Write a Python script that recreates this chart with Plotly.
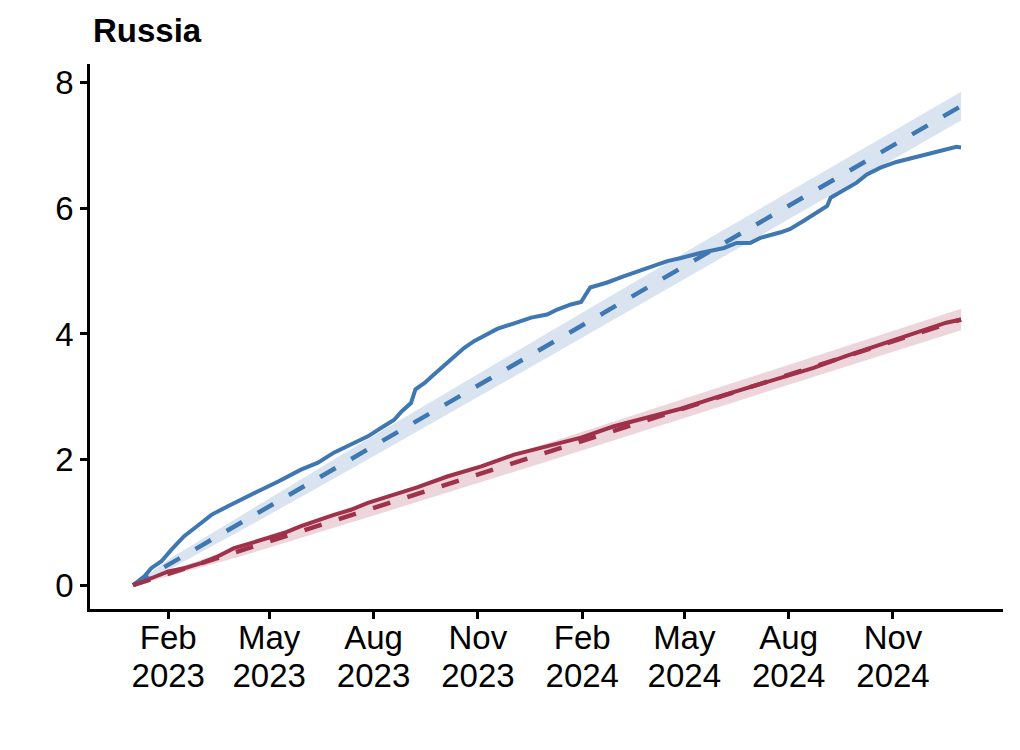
import pandas as pd
import plotly.graph_objects as go

# ---- data ----
start_date = "2023-01-01"

blue_days = [0, 3, 10, 16, 25, 34, 45, 60, 69, 84, 98, 113, 128, 148, 163, 177, 192,
             207, 221, 230, 237, 245, 249, 257, 265, 274, 283, 292, 301, 309, 321, 336,
             351, 365, 374, 386, 395, 403, 418, 433, 453, 471, 483, 500, 521, 532, 544,
             553, 571, 579, 591, 603, 612, 615, 626, 638, 647, 659, 673, 688, 703, 717,
             726, 730]
blue_vals = [0.00, 0.04, 0.14, 0.27, 0.38, 0.57, 0.78, 0.99, 1.12, 1.26, 1.39, 1.52, 1.65,
             1.84, 1.95, 2.11, 2.24, 2.37, 2.53, 2.63, 2.77, 2.90, 3.12, 3.22, 3.35, 3.49,
             3.65, 3.78, 3.89, 3.96, 4.08, 4.17, 4.26, 4.31, 4.39, 4.47, 4.51, 4.74, 4.82,
             4.92, 5.05, 5.16, 5.21, 5.29, 5.37, 5.45, 5.45, 5.53, 5.62, 5.67, 5.80, 5.93,
             6.04, 6.17, 6.28, 6.41, 6.54, 6.65, 6.74, 6.81, 6.88, 6.95, 6.98, 6.97]

red_days = [0, 3, 16, 31, 45, 60, 75, 89, 104, 119, 133, 148, 163, 177, 192, 207, 221,
            236, 251, 277, 307, 336, 365, 395, 424, 453, 483, 512, 541, 571, 600, 629,
            659, 688, 717, 730]
red_vals = [0.00, 0.03, 0.11, 0.22, 0.27, 0.35, 0.46, 0.59, 0.67, 0.75, 0.83, 0.94, 1.04,
            1.12, 1.20, 1.31, 1.39, 1.47, 1.56, 1.73, 1.89, 2.08, 2.21, 2.35, 2.53, 2.66,
            2.81, 2.98, 3.14, 3.30, 3.46, 3.65, 3.83, 3.99, 4.18, 4.23]

trend_days = [0, 730]
blue_trend = [0.00, 7.63]
red_trend = [0.00, 4.23]

band_days = [0, 33, 99, 200, 365, 500, 730]
blue_lower = [0.00, 0.26, 0.91, 1.93, 3.62, 5.02, 7.40]
blue_upper = [0.00, 0.43, 1.15, 2.25, 4.01, 5.44, 7.86]
red_lower = [0.00, 0.15, 0.48, 1.04, 1.97, 2.74, 4.06]
red_upper = [0.00, 0.23, 0.66, 1.28, 2.26, 3.05, 4.40]

tick_dates = ["2023-02-01", "2023-05-01", "2023-08-01", "2023-11-01",
              "2024-02-01", "2024-05-01", "2024-08-01", "2024-11-01"]
tick_months = ["Feb", "May", "Aug", "Nov", "Feb", "May", "Aug", "Nov"]
tick_years = ["2023", "2023", "2023", "2023", "2024", "2024", "2024", "2024"]
y_ticks = [0, 2, 4, 6, 8]

title_text = "Russia"

# ---- styling ----
BLUE = "#3F77B2"
RED = "#A0314A"
BLUE_FILL = "rgba(63,119,178,0.2)"
RED_FILL = "rgba(160,49,74,0.2)"
FONT = "Liberation Sans, Arial, Helvetica, sans-serif"
FS = 33
X_RANGE = ["2022-11-24", "2025-02-06"]

# page body has an 8px default margin: compensate
W, H = 1012, 742


def to_dates(days):
    return pd.Timestamp(start_date) + pd.to_timedelta(days, unit="D")


fig = go.Figure()

# ribbons
for lower, upper, fill in [(blue_lower, blue_upper, BLUE_FILL), (red_lower, red_upper, RED_FILL)]:
    d = to_dates(band_days)
    fig.add_trace(go.Scatter(x=d, y=lower, mode="lines", line=dict(width=0),
                             hoverinfo="skip", showlegend=False))
    fig.add_trace(go.Scatter(x=d, y=upper, mode="lines", line=dict(width=0),
                             fill="tonexty", fillcolor=fill, hoverinfo="skip",
                             showlegend=False))

# observed cumulative lines
fig.add_trace(go.Scatter(x=to_dates(blue_days), y=blue_vals, mode="lines",
                         line=dict(color=BLUE, width=4), showlegend=False))
fig.add_trace(go.Scatter(x=to_dates(red_days), y=red_vals, mode="lines",
                         line=dict(color=RED, width=4), showlegend=False))

# linear trends
fig.add_trace(go.Scatter(x=to_dates(trend_days), y=blue_trend, mode="lines",
                         line=dict(color=BLUE, width=4.5, dash="18px,18px"),
                         showlegend=False))
fig.add_trace(go.Scatter(x=to_dates(trend_days), y=red_trend, mode="lines",
                         line=dict(color=RED, width=4.5, dash="18px,18px"),
                         showlegend=False))

# invisible trace to anchor the year-label axis
fig.add_trace(go.Scatter(x=pd.to_datetime(tick_dates[:1]), y=[0], mode="markers",
                         marker=dict(opacity=0), xaxis="x2", yaxis="y",
                         hoverinfo="skip", showlegend=False))

tickfont = dict(family=FONT, size=FS, color="black")

fig.update_layout(
    width=W, height=H,
    paper_bgcolor="white", plot_bgcolor="white",
    margin=dict(l=82, r=17, t=56, b=141, autoexpand=False),
    xaxis=dict(type="date", range=X_RANGE,
               tickvals=pd.to_datetime(tick_dates), ticktext=tick_months,
               showline=True, linecolor="black", linewidth=2.5,
               ticks="outside", ticklen=7, tickwidth=2.5, tickcolor="black",
               showgrid=False, zeroline=False, tickfont=tickfont,
               ticklabelstandoff=-9),
    xaxis2=dict(type="date", range=X_RANGE, overlaying="x", anchor="y", side="bottom",
                tickvals=pd.to_datetime(tick_dates), ticktext=tick_years,
                showline=False, ticks="outside", ticklen=7, tickwidth=1,
                tickcolor="rgba(0,0,0,0)", showgrid=False, zeroline=False,
                tickfont=tickfont, ticklabelstandoff=30),
    yaxis=dict(range=[-0.38, 8.3], tickvals=y_ticks,
               ticktext=[str(v) for v in y_ticks],
               showline=True, linecolor="black", linewidth=2.5,
               ticks="outside", ticklen=7, tickwidth=2.5, tickcolor="black",
               showgrid=False, zeroline=False, tickfont=tickfont),
    title=dict(text="<b>" + title_text + "</b>", x=85 / W, xanchor="left",
               xref="container", yref="container", y=1 - 22 / H, yanchor="middle",
               font=dict(family=FONT, size=FS, color="black")),
)

fig.write_html("out.html")
